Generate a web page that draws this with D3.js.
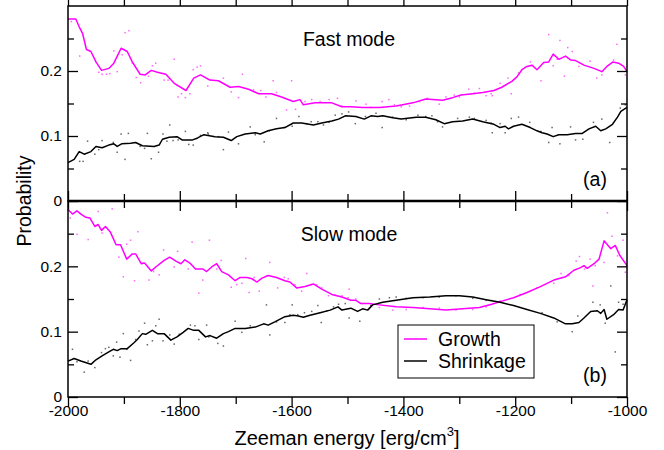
<!DOCTYPE html>
<html>
<head>
    <meta charset="utf-8" />
    <title>Growth / shrinkage probability</title>
    <script src="https://cdn.jsdelivr.net/npm/d3@7"></script>
    <style>
        body { margin: 0; background: #fff; }
        text { font-family: "Liberation Sans", Arial, Helvetica, sans-serif; fill: #000; }
    </style>
</head>
<body>
    <script>
        // [energy, probability]
        var fastGrowthLine = [[-2000,0.280],[-1986,0.280],[-1980,0.268],[-1974,0.258],[-1967,0.233],[-1959,0.230],[-1950,0.214],[-1940,0.201],[-1927,0.204],[-1918,0.212],[-1905,0.235],[-1894,0.230],[-1885,0.214],[-1871,0.195],[-1862,0.194],[-1851,0.201],[-1840,0.198],[-1825,0.195],[-1810,0.181],[-1789,0.170],[-1775,0.189],[-1763,0.194],[-1746,0.186],[-1731,0.185],[-1710,0.175],[-1695,0.176],[-1677,0.172],[-1659,0.165],[-1636,0.165],[-1618,0.160],[-1597,0.153],[-1585,0.156],[-1579,0.148],[-1558,0.151],[-1528,0.151],[-1510,0.145],[-1494,0.145],[-1473,0.144],[-1443,0.144],[-1413,0.146],[-1383,0.151],[-1360,0.157],[-1330,0.155],[-1312,0.159],[-1297,0.163],[-1276,0.165],[-1258,0.167],[-1238,0.170],[-1224,0.175],[-1206,0.184],[-1197,0.191],[-1188,0.202],[-1179,0.207],[-1170,0.209],[-1161,0.202],[-1149,0.213],[-1140,0.214],[-1132,0.226],[-1122,0.218],[-1110,0.223],[-1101,0.217],[-1092,0.216],[-1077,0.209],[-1059,0.204],[-1045,0.199],[-1036,0.207],[-1025,0.214],[-1015,0.212],[-1006,0.207],[-1000,0.199]];
        var fastShrinkLine = [[-2000,0.059],[-1989,0.064],[-1980,0.076],[-1971,0.072],[-1959,0.076],[-1950,0.084],[-1939,0.082],[-1927,0.086],[-1918,0.088],[-1912,0.084],[-1904,0.088],[-1888,0.089],[-1879,0.090],[-1867,0.085],[-1846,0.084],[-1837,0.086],[-1831,0.095],[-1819,0.098],[-1805,0.099],[-1796,0.094],[-1777,0.094],[-1768,0.097],[-1757,0.102],[-1737,0.099],[-1722,0.098],[-1708,0.093],[-1698,0.099],[-1683,0.103],[-1665,0.105],[-1656,0.103],[-1642,0.108],[-1627,0.111],[-1612,0.113],[-1597,0.120],[-1582,0.120],[-1561,0.117],[-1546,0.120],[-1528,0.123],[-1516,0.126],[-1504,0.131],[-1485,0.130],[-1470,0.126],[-1458,0.131],[-1446,0.130],[-1437,0.131],[-1419,0.128],[-1404,0.126],[-1377,0.129],[-1360,0.129],[-1342,0.125],[-1327,0.119],[-1312,0.122],[-1294,0.123],[-1276,0.126],[-1258,0.122],[-1238,0.118],[-1227,0.113],[-1218,0.115],[-1212,0.111],[-1203,0.115],[-1188,0.118],[-1173,0.113],[-1161,0.108],[-1152,0.105],[-1143,0.103],[-1132,0.099],[-1122,0.102],[-1107,0.102],[-1092,0.104],[-1080,0.104],[-1068,0.111],[-1056,0.115],[-1047,0.108],[-1038,0.111],[-1026,0.118],[-1017,0.129],[-1011,0.138],[-1000,0.144]];
        var slowGrowthLine = [[-2000,0.287],[-1992,0.280],[-1984,0.285],[-1977,0.280],[-1968,0.275],[-1961,0.274],[-1952,0.261],[-1946,0.264],[-1940,0.255],[-1933,0.261],[-1924,0.252],[-1914,0.233],[-1906,0.233],[-1895,0.211],[-1885,0.219],[-1879,0.219],[-1869,0.204],[-1863,0.205],[-1851,0.193],[-1843,0.199],[-1828,0.209],[-1818,0.214],[-1807,0.208],[-1798,0.204],[-1791,0.210],[-1782,0.205],[-1772,0.196],[-1759,0.196],[-1752,0.192],[-1743,0.199],[-1734,0.204],[-1725,0.192],[-1713,0.187],[-1701,0.178],[-1692,0.183],[-1680,0.183],[-1671,0.181],[-1662,0.176],[-1653,0.182],[-1642,0.186],[-1627,0.183],[-1612,0.178],[-1603,0.176],[-1591,0.167],[-1576,0.169],[-1561,0.173],[-1546,0.165],[-1528,0.157],[-1510,0.153],[-1494,0.148],[-1485,0.148],[-1476,0.143],[-1461,0.143],[-1443,0.141],[-1413,0.138],[-1383,0.137],[-1353,0.135],[-1324,0.133],[-1294,0.135],[-1264,0.137],[-1242,0.142],[-1227,0.146],[-1203,0.152],[-1179,0.160],[-1155,0.169],[-1131,0.179],[-1110,0.184],[-1095,0.194],[-1083,0.198],[-1077,0.201],[-1071,0.197],[-1059,0.204],[-1050,0.211],[-1041,0.239],[-1029,0.227],[-1021,0.232],[-1013,0.217],[-1000,0.201]];
        var slowShrinkLine = [[-2000,0.055],[-1989,0.059],[-1977,0.055],[-1959,0.050],[-1950,0.057],[-1939,0.063],[-1927,0.069],[-1919,0.073],[-1912,0.071],[-1905,0.074],[-1894,0.074],[-1882,0.083],[-1876,0.088],[-1867,0.097],[-1861,0.096],[-1849,0.102],[-1840,0.097],[-1828,0.097],[-1816,0.087],[-1805,0.092],[-1794,0.099],[-1785,0.105],[-1775,0.102],[-1766,0.102],[-1754,0.092],[-1746,0.094],[-1734,0.090],[-1722,0.097],[-1713,0.100],[-1701,0.105],[-1683,0.105],[-1665,0.107],[-1650,0.112],[-1642,0.110],[-1630,0.115],[-1612,0.123],[-1597,0.125],[-1588,0.124],[-1579,0.122],[-1567,0.125],[-1549,0.129],[-1531,0.133],[-1517,0.138],[-1510,0.133],[-1494,0.136],[-1482,0.131],[-1473,0.135],[-1464,0.133],[-1455,0.141],[-1437,0.145],[-1413,0.148],[-1383,0.152],[-1353,0.153],[-1324,0.155],[-1300,0.155],[-1276,0.153],[-1252,0.149],[-1227,0.145],[-1203,0.140],[-1179,0.134],[-1155,0.128],[-1131,0.121],[-1110,0.112],[-1098,0.112],[-1086,0.114],[-1077,0.121],[-1065,0.131],[-1053,0.132],[-1047,0.128],[-1041,0.134],[-1036,0.119],[-1024,0.126],[-1015,0.134],[-1007,0.133],[-1000,0.149]];

        // raw samples scattered round the running averages
        var fastGrowthDots = [[-1994,0.276],[-1979,0.223],[-1898,0.259],[-1891,0.262],[-1918,0.231],[-1903,0.225],[-1945,0.198],[-1939,0.195],[-1931,0.195],[-1925,0.196],[-1912,0.199],[-1885,0.212],[-1878,0.190],[-1870,0.182],[-1856,0.192],[-1849,0.208],[-1843,0.212],[-1828,0.186],[-1821,0.186],[-1810,0.218],[-1803,0.160],[-1797,0.165],[-1790,0.159],[-1782,0.165],[-1776,0.202],[-1769,0.206],[-1763,0.208],[-1750,0.177],[-1749,0.187],[-1722,0.189],[-1708,0.168],[-1695,0.159],[-1688,0.195],[-1668,0.171],[-1655,0.170],[-1646,0.160],[-1633,0.185],[-1627,0.167],[-1609,0.140],[-1600,0.185],[-1593,0.141],[-1576,0.153],[-1564,0.156],[-1549,0.153],[-1533,0.156],[-1518,0.158],[-1510,0.146],[-1485,0.154],[-1467,0.149],[-1458,0.144],[-1438,0.153],[-1426,0.156],[-1416,0.148],[-1404,0.145],[-1389,0.146],[-1371,0.153],[-1357,0.158],[-1336,0.149],[-1324,0.160],[-1309,0.163],[-1300,0.160],[-1283,0.172],[-1273,0.166],[-1264,0.173],[-1252,0.162],[-1243,0.165],[-1241,0.162],[-1227,0.181],[-1213,0.189],[-1207,0.165],[-1194,0.197],[-1173,0.214],[-1154,0.185],[-1140,0.256],[-1132,0.208],[-1125,0.218],[-1120,0.247],[-1112,0.192],[-1106,0.236],[-1098,0.230],[-1086,0.207],[-1066,0.215],[-1054,0.189],[-1045,0.194],[-1024,0.217],[-1018,0.241],[-1003,0.194]];
        var fastShrinkDots = [[-1979,0.061],[-1973,0.061],[-1965,0.092],[-1952,0.072],[-1945,0.079],[-1939,0.093],[-1919,0.090],[-1912,0.075],[-1905,0.103],[-1898,0.064],[-1892,0.104],[-1871,0.084],[-1863,0.081],[-1858,0.104],[-1851,0.065],[-1838,0.075],[-1830,0.103],[-1823,0.092],[-1818,0.117],[-1812,0.093],[-1803,0.094],[-1790,0.107],[-1784,0.087],[-1776,0.086],[-1763,0.101],[-1750,0.105],[-1749,0.103],[-1731,0.099],[-1722,0.079],[-1713,0.106],[-1695,0.088],[-1674,0.114],[-1665,0.102],[-1649,0.091],[-1640,0.108],[-1627,0.127],[-1613,0.113],[-1599,0.115],[-1587,0.130],[-1573,0.119],[-1565,0.122],[-1553,0.122],[-1543,0.117],[-1533,0.121],[-1522,0.132],[-1510,0.134],[-1498,0.137],[-1486,0.119],[-1468,0.130],[-1449,0.135],[-1438,0.113],[-1419,0.129],[-1395,0.125],[-1374,0.132],[-1360,0.130],[-1349,0.131],[-1339,0.122],[-1330,0.114],[-1303,0.127],[-1282,0.129],[-1273,0.127],[-1252,0.124],[-1243,0.120],[-1241,0.105],[-1227,0.119],[-1218,0.105],[-1207,0.127],[-1194,0.129],[-1174,0.121],[-1154,0.107],[-1140,0.090],[-1134,0.113],[-1120,0.088],[-1101,0.114],[-1092,0.094],[-1079,0.095],[-1060,0.121],[-1045,0.126],[-1031,0.090],[-1012,0.143],[-1003,0.148]];
        var slowGrowthDots = [[-1996,0.274],[-1984,0.249],[-1964,0.241],[-1946,0.284],[-1939,0.251],[-1921,0.288],[-1909,0.214],[-1901,0.184],[-1895,0.234],[-1888,0.240],[-1881,0.178],[-1875,0.253],[-1866,0.205],[-1855,0.179],[-1847,0.192],[-1837,0.187],[-1829,0.225],[-1810,0.199],[-1804,0.223],[-1785,0.196],[-1778,0.237],[-1766,0.159],[-1759,0.179],[-1747,0.240],[-1734,0.196],[-1726,0.209],[-1708,0.168],[-1698,0.172],[-1689,0.174],[-1682,0.212],[-1676,0.160],[-1667,0.183],[-1658,0.162],[-1639,0.206],[-1625,0.167],[-1613,0.183],[-1606,0.181],[-1594,0.172],[-1582,0.162],[-1573,0.189],[-1565,0.172],[-1555,0.172],[-1546,0.167],[-1534,0.155],[-1522,0.156],[-1510,0.155],[-1499,0.152],[-1497,0.165],[-1485,0.150],[-1473,0.143],[-1458,0.140],[-1443,0.137],[-1419,0.133],[-1395,0.134],[-1365,0.137],[-1336,0.136],[-1306,0.133],[-1276,0.134],[-1252,0.138],[-1227,0.147],[-1191,0.157],[-1161,0.167],[-1131,0.174],[-1118,0.189],[-1104,0.186],[-1091,0.208],[-1085,0.215],[-1076,0.196],[-1066,0.211],[-1061,0.170],[-1057,0.201],[-1041,0.206],[-1035,0.282],[-1027,0.246],[-1017,0.216],[-1007,0.240],[-1003,0.191]];
        var slowShrinkDots = [[-1992,0.073],[-1984,0.054],[-1971,0.038],[-1964,0.055],[-1952,0.045],[-1940,0.068],[-1933,0.074],[-1927,0.076],[-1919,0.063],[-1913,0.084],[-1907,0.061],[-1901,0.097],[-1895,0.073],[-1888,0.056],[-1879,0.088],[-1873,0.101],[-1863,0.113],[-1858,0.080],[-1849,0.086],[-1843,0.109],[-1837,0.119],[-1830,0.086],[-1818,0.095],[-1810,0.081],[-1801,0.096],[-1781,0.110],[-1773,0.109],[-1766,0.088],[-1752,0.110],[-1748,0.092],[-1732,0.082],[-1722,0.078],[-1701,0.116],[-1689,0.099],[-1674,0.109],[-1645,0.141],[-1639,0.095],[-1627,0.115],[-1612,0.114],[-1603,0.126],[-1599,0.141],[-1589,0.126],[-1577,0.129],[-1564,0.131],[-1553,0.140],[-1547,0.114],[-1537,0.132],[-1525,0.138],[-1516,0.142],[-1504,0.143],[-1497,0.121],[-1478,0.116],[-1458,0.140],[-1443,0.150],[-1425,0.152],[-1413,0.153],[-1395,0.151],[-1365,0.152],[-1336,0.153],[-1306,0.155],[-1276,0.151],[-1252,0.148],[-1152,0.129],[-1125,0.115],[-1098,0.100],[-1088,0.124],[-1061,0.145],[-1048,0.141],[-1039,0.113],[-1029,0.170],[-1021,0.069],[-1015,0.145],[-1007,0.142]];

        var xMajor = [-2000, -1800, -1600, -1400, -1200, -1000];
        var xMinor = [-1900, -1700, -1500, -1300, -1100];
        var yMajor = [0, 0.1, 0.2];
        var yMinor = [0.05, 0.15, 0.25];
        var seriesNames = ["Growth", "Shrinkage"];
        var seriesColors = ["#ff00ff", "#000000"];

        var width = 664, height = 450;
        var plotLeft = 68, plotRight = 627, plotTop = 6, plotMid = 201, plotBottom = 397;

        var svg = d3.select("body").append("svg")
            .attr("width", width)
            .attr("height", height);

        var x = d3.scaleLinear().domain([-2000, -1000]).range([plotLeft, plotRight]);

        var panels = [
            { y: d3.scaleLinear().domain([0, 0.3]).range([plotMid, plotTop]), growth: fastGrowthLine, shrink: fastShrinkLine,
              gDots: fastGrowthDots, sDots: fastShrinkDots, title: "Fast mode", tag: "(a)" },
            { y: d3.scaleLinear().domain([0, 0.3]).range([plotBottom, plotMid]), growth: slowGrowthLine, shrink: slowShrinkLine,
              gDots: slowGrowthDots, sDots: slowShrinkDots, title: "Slow mode", tag: "(b)" }
        ];

        function styleTicks(a) {
            a.select(".domain").remove();
            a.selectAll("line").attr("stroke", "#000").attr("stroke-width", 1.3);
            a.selectAll("text").style("font-size", "15.5px").style("font-family", "Liberation Sans, Arial, sans-serif");
        }

        panels.forEach(function (p) {
            var y = p.y;
            var y0 = y.range()[0], y1 = y.range()[1];
            var g = svg.append("g");

            // dots first, lines on top
            [[p.gDots, seriesColors[0]], [p.sDots, seriesColors[1]]].forEach(function (s) {
                g.selectAll(null).data(s[0]).enter().append("rect")
                    .attr("x", function (d) { return x(d[0]) - 0.75; })
                    .attr("y", function (d) { return y(d[1]) - 0.75; })
                    .attr("width", 1.5)
                    .attr("height", 1.5)
                    .attr("fill", s[1])
                    .attr("opacity", 0.6);
            });

            var line = d3.line()
                .x(function (d) { return x(d[0]); })
                .y(function (d) { return y(d[1]); });

            [[p.growth, seriesColors[0]], [p.shrink, seriesColors[1]]].forEach(function (s) {
                g.append("path")
                    .datum(s[0])
                    .attr("d", line)
                    .attr("fill", "none")
                    .attr("stroke", s[1])
                    .attr("stroke-width", 1.5)
                    .attr("stroke-linejoin", "round");
            });

            // ticks point inward on all four sides
            function addAxis(axis, tx, ty, keepLabels) {
                var a = g.append("g").attr("transform", "translate(" + tx + "," + ty + ")").call(axis);
                styleTicks(a);
                if (!keepLabels) a.selectAll("text").remove();
            }

            addAxis(d3.axisLeft(y).tickValues(yMajor).tickSize(-10).tickPadding(6).tickFormat(d3.format("")), plotLeft, 0, true);
            addAxis(d3.axisLeft(y).tickValues(yMinor).tickSize(-6), plotLeft, 0, false);
            addAxis(d3.axisRight(y).tickValues(yMajor).tickSize(-10), plotRight, 0, false);
            addAxis(d3.axisRight(y).tickValues(yMinor).tickSize(-6), plotRight, 0, false);

            addAxis(d3.axisTop(x).tickValues(xMajor).tickSize(-10), 0, y0, false);
            addAxis(d3.axisTop(x).tickValues(xMinor).tickSize(-7), 0, y0, false);
            addAxis(d3.axisBottom(x).tickValues(xMajor).tickSize(-10), 0, y1, false);
            addAxis(d3.axisBottom(x).tickValues(xMinor).tickSize(-7), 0, y1, false);

            g.append("rect")
                .attr("x", plotLeft).attr("y", y1)
                .attr("width", plotRight - plotLeft).attr("height", y0 - y1)
                .attr("fill", "none").attr("stroke", "#000").attr("stroke-width", 1.5);

            g.append("text")
                .attr("x", 349).attr("y", y1 + 40)
                .attr("text-anchor", "middle")
                .style("font-size", "19.5px")
                .text(p.title);

            g.append("text")
                .attr("x", 595).attr("y", y0 - 15)
                .attr("text-anchor", "middle")
                .style("font-size", "19.5px")
                .text(p.tag);
        });

        // heavier shared border between panels
        svg.append("line")
            .attr("x1", plotLeft).attr("x2", plotRight)
            .attr("y1", plotMid).attr("y2", plotMid)
            .attr("stroke", "#000").attr("stroke-width", 2.5);

        // x tick labels under the lower panel (plain hyphen minus, as in the original)
        var xAx = svg.append("g").attr("transform", "translate(0," + plotBottom + ")")
            .call(d3.axisBottom(x).tickValues(xMajor).tickSize(0).tickPadding(8)
                .tickFormat(function (d) { return String(d); }));
        styleTicks(xAx);

        // axis titles
        var xt = svg.append("text")
            .attr("x", 347).attr("y", 445)
            .attr("text-anchor", "middle")
            .style("font-size", "20px");
        xt.append("tspan").text("Zeeman energy [erg/cm");
        xt.append("tspan").attr("dy", -9).style("font-size", "13px").text("3");
        xt.append("tspan").attr("dy", 9).text("]");

        svg.append("text")
            .attr("transform", "translate(31,201) rotate(-90)")
            .attr("text-anchor", "middle")
            .style("font-size", "19.5px")
            .text("Probability");

        // legend
        var lg = svg.append("g").attr("transform", "translate(398,325)");
        lg.append("rect")
            .attr("width", 136).attr("height", 53)
            .attr("fill", "#fff").attr("stroke", "#000").attr("stroke-width", 1);
        seriesNames.forEach(function (name, i) {
            lg.append("line")
                .attr("x1", 6).attr("x2", 29)
                .attr("y1", 14 + i * 22).attr("y2", 14 + i * 22)
                .attr("stroke", seriesColors[i]).attr("stroke-width", 1.5);
            lg.append("text")
                .attr("x", 40).attr("y", 21 + i * 22)
                .style("font-size", "19.5px")
                .text(name);
        });
    </script>
</body>
</html>
